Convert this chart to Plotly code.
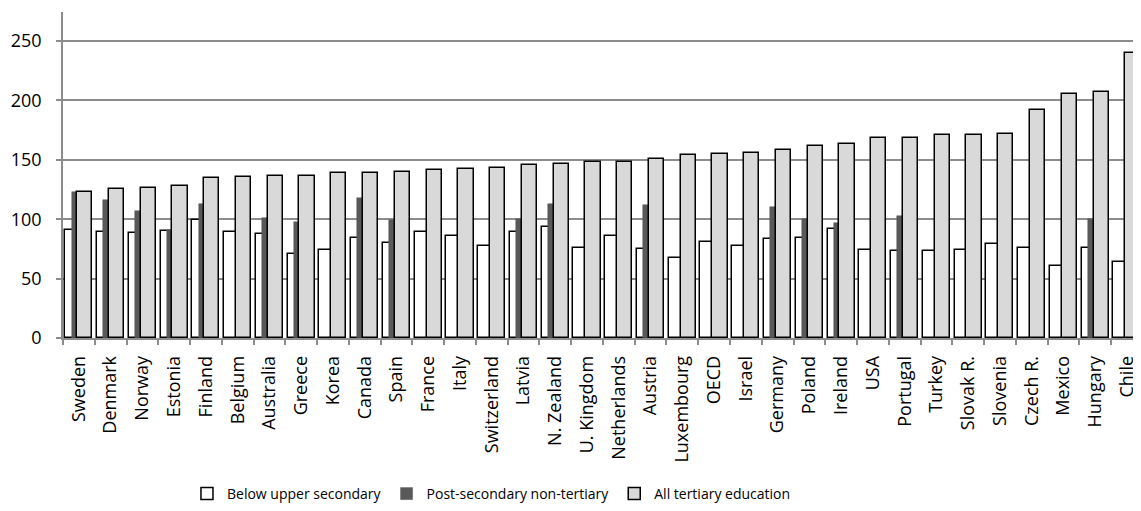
import plotly.graph_objects as go

countries = ["Sweden", "Denmark", "Norway", "Estonia", "Finland", "Belgium", "Australia",
             "Greece", "Korea", "Canada", "Spain", "France", "Italy", "Switzerland", "Latvia",
             "N. Zealand", "U. Kingdom", "Netherlands", "Austria", "Luxembourg", "OECD",
             "Israel", "Germany", "Poland", "Ireland", "USA", "Portugal", "Turkey",
             "Slovak R.", "Slovenia", "Czech R.", "Mexico", "Hungary", "Chile"]

below_upper_secondary = [91, 89.5, 88, 90, 99, 89.5, 87.5, 71, 74, 84.5, 80, 89.5, 86, 77.5, 89,
                         93.5, 76, 85.5, 75, 67.5, 81, 77.5, 83.5, 84, 92, 74, 73, 73.5, 74,
                         79.5, 76, 60.5, 76, 64]

post_secondary = [123, 116, 107, 91, 112.5, None, 101, 97.5, None, 118, 99, None, None, None, 100,
                  113, None, None, 112, None, None, None, 110, 100, 96.5, None, 103, None, None,
                  None, None, None, 100, None]

tertiary = [122.5, 125.5, 126, 128, 135, 135.5, 136, 136.5, 138.5, 138.5, 140, 141, 142, 143,
            145.5, 146.5, 148.5, 148.5, 150.5, 154, 155, 155.5, 158, 162, 163.5, 168.5, 168.5,
            170.5, 170.5, 172, 192, 205.5, 207, 239.5]

tick_vals = [0, 50, 100, 150, 200, 250]

FONT = "Open Sans"

fig = go.Figure()
fig.add_trace(go.Bar(
    x=countries, y=below_upper_secondary, name="Below upper secondary",
    width=0.47, offset=-0.43,
    marker=dict(color="#ffffff", line=dict(color="#000000", width=1.5)),
))
fig.add_trace(go.Bar(
    x=countries, y=post_secondary, name="Post-secondary non-tertiary",
    width=0.47, offset=-0.23,
    marker=dict(color="#595959", line=dict(color="#595959", width=0.5)),
))
fig.add_trace(go.Bar(
    x=countries, y=tertiary, name="All tertiary education",
    width=0.48, offset=-0.055,
    marker=dict(color="#d9d9d9", line=dict(color="#000000", width=1.5)),
))

fig.update_layout(
    barmode="overlay",
    width=1133, height=503,
    margin=dict(l=55, r=0, t=4, b=173, autoexpand=False),
    paper_bgcolor="white", plot_bgcolor="white",
    font=dict(family=FONT, size=18, color="#000000"),
    showlegend=True,
    legend=dict(orientation="h", x=0.115, xanchor="left", y=-0.4785, yanchor="middle",
                font=dict(family=FONT, size=14), traceorder="normal",
                itemwidth=30, bgcolor="rgba(0,0,0,0)"),
    xaxis=dict(
        type="category", tickangle=-90, showgrid=False, automargin=False,
        ticks="outside", tickson="boundaries", ticklen=5, tickcolor="#8c8c8c", tickwidth=1.5,
        showline=True, linecolor="#8c8c8c", linewidth=1.5, ticklabelstandoff=9,
        tickfont=dict(family=FONT, size=18), range=[-0.5, 33.44],
    ),
    yaxis=dict(
        range=[0, 274.4], tickvals=tick_vals, showgrid=True, gridcolor="#8c8c8c", gridwidth=1.5,
        ticks="outside", ticklen=5, tickcolor="#8c8c8c", tickwidth=1.5, automargin=False,
        showline=True, linecolor="#8c8c8c", linewidth=1.5, zeroline=False, ticklabelstandoff=11,
        tickfont=dict(family=FONT, size=18),
    ),
    bargap=0,
)

fig.write_html("out.html")
